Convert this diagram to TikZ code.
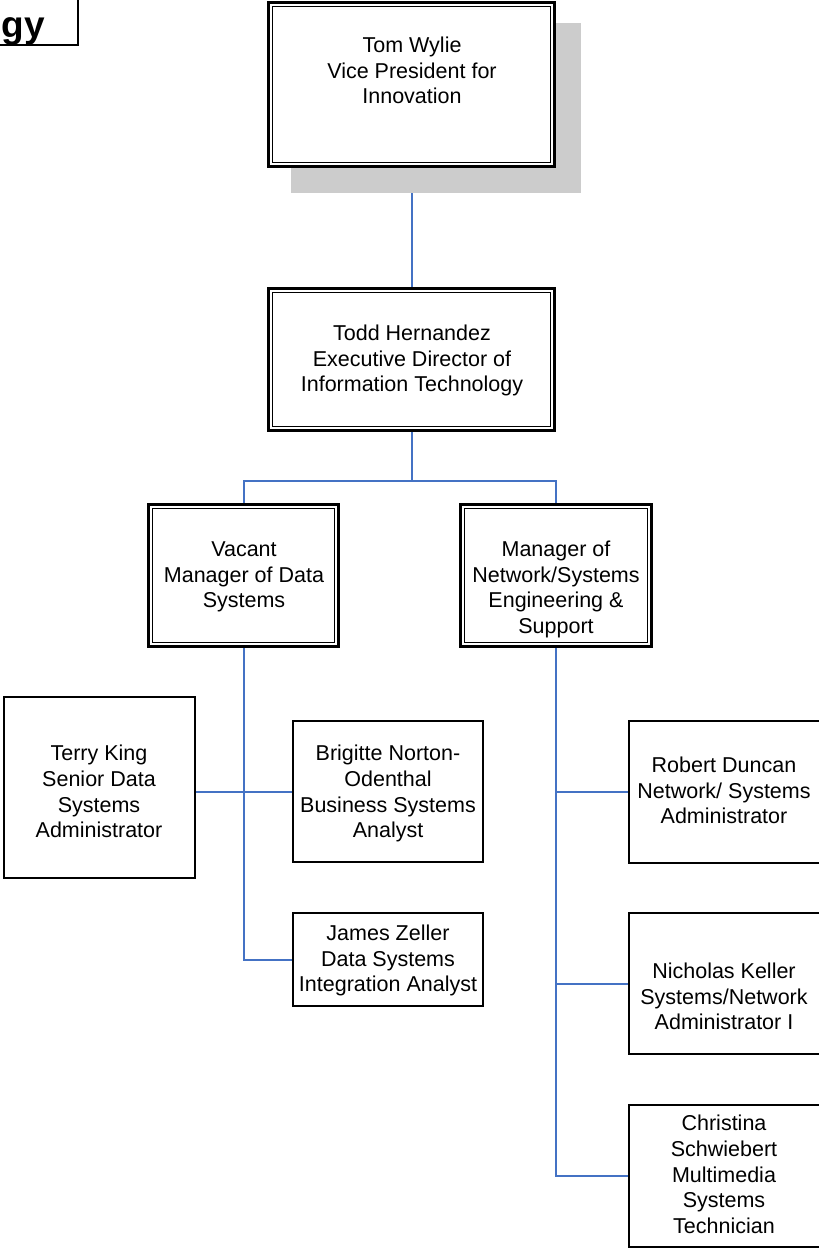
\documentclass[tikz,border=0pt]{standalone}
\usepackage{fontspec}
\setmainfont{Liberation Sans}
\usetikzlibrary{backgrounds}
\definecolor{conn}{HTML}{4472C4}
\definecolor{shade}{HTML}{CCCCCC}
\begin{document}
\begin{tikzpicture}[x=1pt,y=-1pt,
  dbox/.style={draw, line width=3pt, fill=white, rectangle, inner sep=0pt, outer sep=0pt},
  sbox/.style={draw, line width=2.2pt, fill=white, rectangle, inner sep=0pt, outer sep=0pt},
  txt/.style={align=center, inner sep=0pt, font=\fontsize{21.5}{25.7}\selectfont},
  link/.style={draw=conn, line width=2pt},
  shadowbox/.style={fill=shade, rectangle, inner sep=0pt, outer sep=0pt}]
\useasboundingbox (0,0) rectangle (819,1250);

% title fragment
\node[draw, line width=2pt, rectangle, inner sep=0pt, minimum width=98pt, minimum height=62pt] (titlebox) at (29,14) {};
\node[anchor=base east, inner sep=0pt, font=\bfseries\fontsize{37}{40}\selectfont] (titletext) at (45,37) {gy};

% shadow of top box
\node[shadowbox, minimum width=290pt, minimum height=170pt] (tomshadow) at (436,108) {};

% double boxes
\node[dbox, minimum width=286pt, minimum height=164pt] (tom) at (411.5,84.5) {};
\node[dbox, minimum width=286pt, minimum height=142pt] (todd) at (411.5,359.5) {};
\node[dbox, minimum width=190pt, minimum height=142pt] (vacant) at (243.5,575.5) {};
\node[dbox, minimum width=191pt, minimum height=142pt] (mgr) at (556,575.5) {};
\foreach \n in {tom,todd,vacant,mgr}
  \draw[line width=1pt] ([shift={(4,4)}]\n.north west) rectangle ([shift={(-4,-4)}]\n.south east);

% single boxes
\node[sbox, minimum width=191pt, minimum height=181pt] (terry) at (99.5,787.5) {};
\node[sbox, minimum width=190pt, minimum height=141pt] (brig) at (388,791.5) {};
\node[sbox, minimum width=190pt, minimum height=93pt] (james) at (388,959.5) {};
\node[sbox, minimum width=200pt, minimum height=142pt] (robert) at (729,792) {};
\node[sbox, minimum width=200pt, minimum height=141pt] (nick) at (729,983.5) {};
\node[sbox, minimum width=200pt, minimum height=142pt] (chris) at (729,1176) {};

% texts
\node[txt] (tomT) at (412,73) {\strut Tom Wylie\\Vice President for\\Innovation\strut};
\node[txt] (toddT) at (412,361) {\strut Todd Hernandez\\Executive Director of\\Information Technology\strut};
\node[txt] (vacT) at (244,577) {\strut Vacant\\Manager of Data\\Systems\strut};
\node[txt] (mgrT) at (556,590) {\strut Manager of\\Network/Systems\\Engineering \&\\Support\strut};
\node[txt] (terryT) at (99,794) {\strut Terry King\\Senior Data\\Systems\\Administrator\strut};
\node[txt] (brigT) at (388,794) {\strut Brigitte Norton-\\Odenthal\\Business Systems\\Analyst\strut};
\node[txt] (jamesT) at (388,961) {\strut James Zeller\\Data Systems\\Integration Analyst\strut};
\node[txt] (robT) at (724,793) {\strut Robert Duncan\\Network/ Systems\\Administrator\strut};
\node[txt] (nickT) at (724,999) {\strut Nicholas Keller\\Systems/Network\\Administrator I\strut};
\node[txt] (chrisT) at (724,1177) {\strut Christina\\Schwiebert\\Multimedia\\Systems\\Technician\strut};

% connectors
\begin{scope}[on background layer]
\draw[link] (tom.south) -- (todd.north);
\draw[link] (todd.south) -- ++(0,50) -| (vacant.north);
\draw[link] (todd.south) -- ++(0,50) -| (mgr.north);
\draw[link] (vacant.south) |- (james.west);
\draw[link] (terry.east |- brig.west) -- (brig.west);
\draw[link] (mgr.south) |- (chris.west);
\draw[link] (mgr.south |- robert.west) -- (robert.west);
\draw[link] (mgr.south |- nick.west) -- (nick.west);
\end{scope}
\end{tikzpicture}
\end{document}
